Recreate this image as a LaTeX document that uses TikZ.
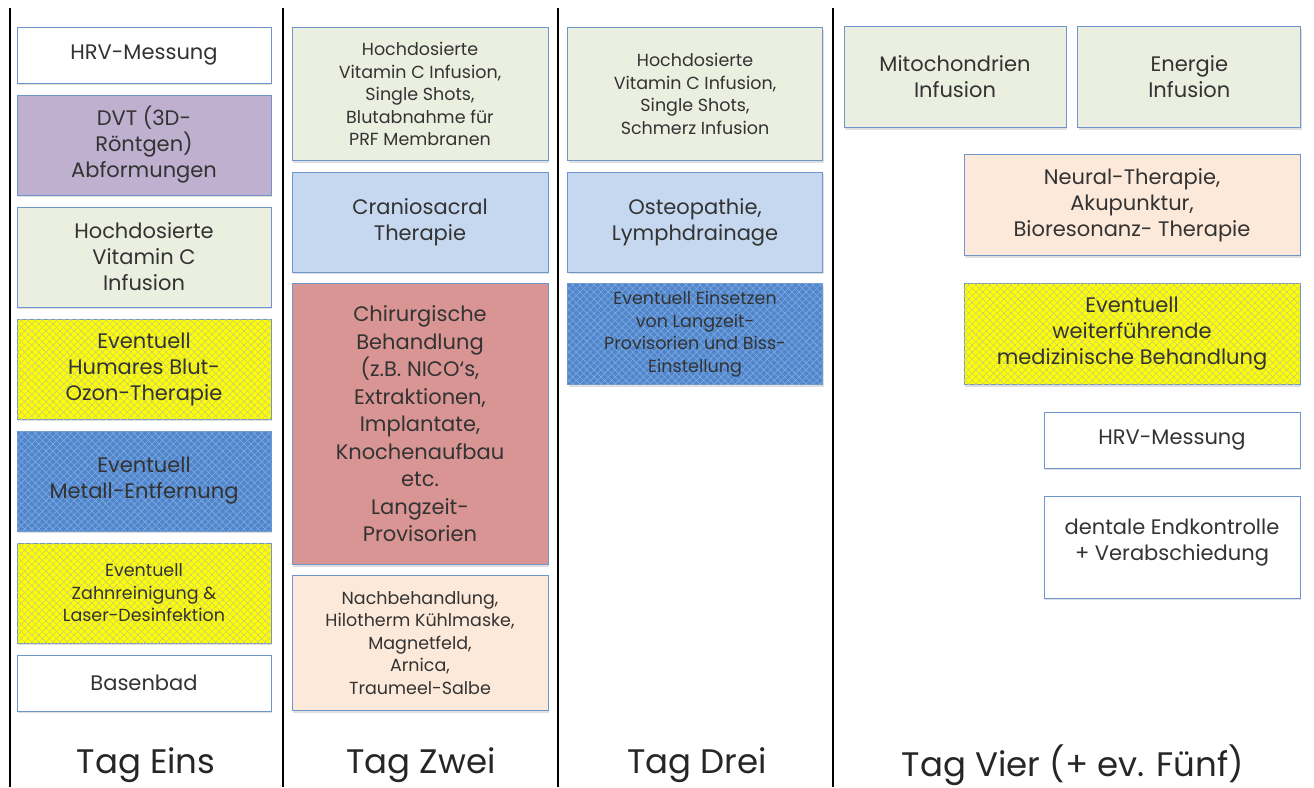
\documentclass[tikz,border=0pt]{standalone}
\usepackage{fontspec}
\setmainfont{Poppins}
\usepackage{tikz}
\usetikzlibrary{patterns.meta,
                shadows,
                positioning}

\definecolor{boxline}{RGB}{110,150,205}
\definecolor{infgreen}{RGB}{235,239,224}
\definecolor{dvtlila}{RGB}{191,176,208}
\definecolor{therblue}{RGB}{197,216,240}
\definecolor{chirred}{RGB}{217,149,148}
\definecolor{peach}{RGB}{253,233,217}
\definecolor{evblue}{RGB}{80,134,204}
\definecolor{evyellow}{RGB}{255,255,0}
\definecolor{hatchyellow}{RGB}{200,205,120}
\definecolor{hatchblue}{RGB}{130,170,225}

\begin{document}
\begin{tikzpicture}[
            x=1pt, y=-1pt,
            font=\fontsize{21}{26}\selectfont,
            base/.style = {draw=boxline, line width=0.8pt, align=center,
                    inner sep=2pt, text=black!80,
                    drop shadow={shadow xshift=1pt, shadow yshift=-2pt,
                                 opacity=0.25}},
            plain/.style = {base, fill=white},
            infusion/.style = {base, fill=infgreen},
            imaging/.style = {base, fill=dvtlila},
            therapy/.style = {base, fill=therblue},
            surgery/.style = {base, fill=chirred},
            aftercare/.style = {base, fill=peach},
            hatch/.style = {
                    postaction={pattern={Lines[angle=45, distance=5pt, line width=0.6pt]},
                                pattern color=#1},
                    postaction={pattern={Lines[angle=-45, distance=5pt, line width=0.6pt]},
                                pattern color=#1}},
            optyellow/.style = {base, fill=evyellow, hatch=hatchyellow},
            optblue/.style = {base, fill=evblue, hatch=hatchblue},
            small/.style = {font=\fontsize{17.5}{22.5}\selectfont},
            day/.style = {font=\fontsize{34}{40}\selectfont, text=black!85},
            sep/.style = {line width=1.6pt, black}]

        \useasboundingbox (0,0) rectangle (1314,787);

        % day separators
        \foreach \sx in {10,283,558,833}
            \draw [sep] (\sx,8) -- (\sx,787);

        % Tag Eins
        \node [plain, minimum width=254, minimum height=56]
            (e1) at (144,55) {HRV-Messung}; % E-1
        \node [imaging, minimum width=254, minimum height=100]
            (e2) at (144,145) {DVT (3D-\\Röntgen)\\Abformungen}; % E-2
        \node [infusion, minimum width=254, minimum height=100]
            (e3) at (144,257) {Hochdosierte\\Vitamin C\\Infusion}; % E-3
        \node [optyellow, minimum width=254, minimum height=100]
            (e4) at (144,369) {Eventuell\\Humares Blut-\\Ozon-Therapie}; % E-4
        \node [optblue, minimum width=254, minimum height=100]
            (e5) at (144,481) {Eventuell\\Metall-Entfernung}; % E-5
        \node [optyellow, small, minimum width=254, minimum height=100]
            (e6) at (144,593) {Eventuell\\Zahnreinigung \&\\Laser-Desinfektion}; % E-6
        \node [plain, minimum width=254, minimum height=56]
            (e7) at (144,683) {Basenbad}; % E-7

        % Tag Zwei
        \node [infusion, small, minimum width=256, minimum height=133]
            (z1) at (420,94) {Hochdosierte\\Vitamin C Infusion,\\Single Shots,\\Blutabnahme für\\PRF Membranen}; % Z-1
        \node [therapy, minimum width=256, minimum height=100]
            (z2) at (420,222) {Craniosacral\\Therapie}; % Z-2
        \node [surgery, minimum width=256, minimum height=281, font=\fontsize{21}{27.5}\selectfont]
            (z3) at (420,424) {Chirurgische\\Behandlung\\(z.B. NICO‘s,\\Extraktionen,\\Implantate,\\Knochenaufbau\\etc.\\Langzeit-\\Provisorien}; % Z-3
        \node [aftercare, small, minimum width=256, minimum height=135]
            (z4) at (420,643) {Nachbehandlung,\\Hilotherm Kühlmaske,\\Magnetfeld,\\Arnica,\\Traumeel-Salbe}; % Z-4

        % Tag Drei
        \node [infusion, small, minimum width=255, minimum height=133]
            (d1) at (695,94) {Hochdosierte\\Vitamin C Infusion,\\Single Shots,\\Schmerz Infusion}; % D-1
        \node [therapy, minimum width=255, minimum height=100]
            (d2) at (695,222) {Osteopathie,\\Lymphdrainage}; % D-2
        \node [optblue, small, minimum width=255, minimum height=101]
            (d3) at (695,334) {Eventuell Einsetzen\\von Langzeit-\\Provisorien und Biss-\\Einstellung}; % D-3

        % Tag Vier
        \node [infusion, minimum width=222, minimum height=101]
            (v1) at (955,77) {Mitochondrien\\Infusion}; % V-1
        \node [infusion, minimum width=223, minimum height=101,
            right=11 of v1] (v2) {Energie\\Infusion}; % V-2
        \node [aftercare, minimum width=336, minimum height=101]
            (v3) at (1132,205) {Neural-Therapie,\\Akupunktur,\\Bioresonanz- Therapie}; % V-3
        \node [optyellow, minimum width=336, minimum height=101]
            (v4) at (1132,334) {Eventuell\\weiterführende\\medizinische Behandlung}; % V-4
        \node [plain, minimum width=256, minimum height=56]
            (v5) at (1172,440) {HRV-Messung}; % V-5
        \node [plain, minimum width=256, minimum height=102]
            (v6) at (1172,547) {dentale Endkontrolle\\+ Verabschiedung\\[-12pt]}; % V-6

        % day labels
        \node [day] (t1) at (146,765) {Tag Eins};
        \node [day] (t2) at (421,765) {Tag Zwei};
        \node [day] (t3) at (697,765) {Tag Drei};
        \node [day] (t4) at (1073,765) {Tag Vier (+ ev. Fünf)};
    \end{tikzpicture}
\end{document}
